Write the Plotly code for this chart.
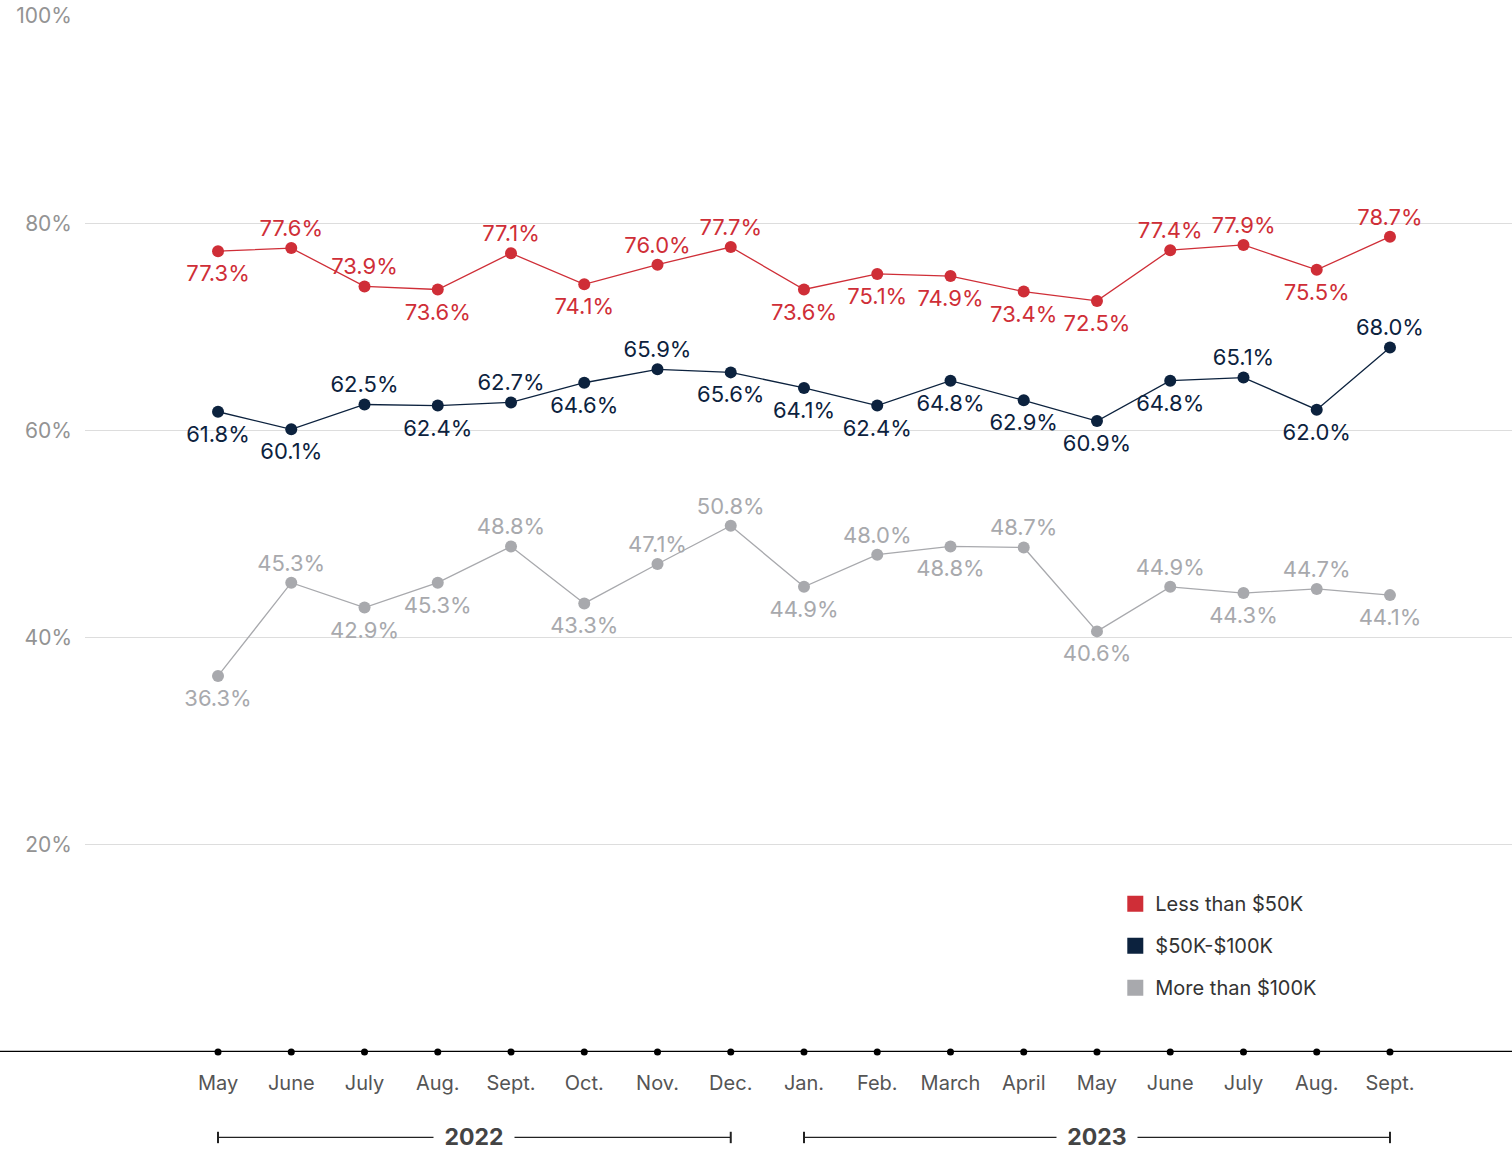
import plotly.graph_objects as go

months = ["May", "June", "July", "Aug.", "Sept.", "Oct.", "Nov.", "Dec.",
          "Jan.", "Feb.", "March", "April", "May", "June", "July", "Aug.", "Sept."]
years = ["2022", "2023"]
year_spans = [(0, 7), (8, 16)]

low = [77.3, 77.6, 73.9, 73.6, 77.1, 74.1, 76.0, 77.7, 73.6, 75.1, 74.9, 73.4, 72.5, 77.4, 77.9, 75.5, 78.7]
mid = [61.8, 60.1, 62.5, 62.4, 62.7, 64.6, 65.9, 65.6, 64.1, 62.4, 64.8, 62.9, 60.9, 64.8, 65.1, 62.0, 68.0]
high = [36.3, 45.3, 42.9, 45.3, 48.8, 43.3, 47.1, 50.8, 44.9, 48.0, 48.8, 48.7, 40.6, 44.9, 44.3, 44.7, 44.1]

# label placement: "t" above, "b" below
low_pos = "bttbtbttbbbbbttbt"
mid_pos = "bbtbtbtbbbbbbbtbt"
high_pos = "btbbtbttbtbtbtbtb"

names = ["Less than $50K", "$50K-$100K", "More than $100K"]
colors = ["#cf2e37", "#0c223e", "#a8a9ad"]

FONT = "Inter"
x = list(range(len(months)))

fig = go.Figure()

for vals, pos, color, name in zip([low, mid, high], [low_pos, mid_pos, high_pos], colors, names):
    fig.add_trace(go.Scatter(
        x=x, y=vals, mode="lines+markers",
        line=dict(color=color, width=1.3),
        marker=dict(color=color, size=12),
        showlegend=False, cliponaxis=False, hoverinfo="skip",
    ))
    # value labels; transparent marker size tunes the label offset
    for flag, tpos, msize in (("t", "top center", 9), ("b", "bottom center", 20)):
        xs = [xi for xi, p in zip(x, pos) if p == flag]
        ys = [v for v, p in zip(vals, pos) if p == flag]
        fig.add_trace(go.Scatter(
            x=xs, y=ys, mode="markers+text",
            marker=dict(color="rgba(0,0,0,0)", size=msize),
            text=[f"{v:.1f}%" for v in ys],
            textposition=tpos,
            textfont=dict(family=FONT, size=22, color=color),
            showlegend=False, cliponaxis=False, hoverinfo="skip",
        ))

# axis dots at each month
fig.add_trace(go.Scatter(
    x=x, y=[0] * len(x), mode="markers",
    marker=dict(color="#000000", size=7),
    showlegend=False, cliponaxis=False, hoverinfo="skip",
))

# legend entries
for i, (color, name) in enumerate(zip(colors, names)):
    fig.add_trace(go.Scatter(
        x=[None], y=[None], mode="markers", name=name,
        marker=dict(color=color, size=17, symbol="square"),
        legendgroup=f"g{i}", showlegend=True,
    ))

shapes = [
    dict(type="line", xref="paper", yref="y", x0=-0.06, x1=1, y0=0, y1=0,
         line=dict(color="#000000", width=2.5), layer="above"),
]
annotations = []
for yr, (a, b) in zip(years, year_spans):
    shapes.append(dict(type="line", xref="x", yref="paper", x0=a, x1=b, y0=-0.0825, y1=-0.0825,
                       line=dict(color="#222222", width=1.3)))
    for e in (a, b):
        shapes.append(dict(type="line", xref="x", yref="paper", x0=e, x1=e, y0=-0.077, y1=-0.088,
                           line=dict(color="#222222", width=2)))
    annotations.append(dict(x=(a + b) / 2, xref="x", y=-0.0825, yref="paper", text=f"<b>{yr}</b>",
                            showarrow=False, font=dict(family=FONT, size=23, color="#444444"),
                            bgcolor="white", borderpad=0, xanchor="center", yanchor="middle",
                            width=80))

fig.update_layout(
    width=1512, height=1151,
    margin=dict(l=85, r=0, t=16, b=99),
    plot_bgcolor="white", paper_bgcolor="white",
    font=dict(family=FONT),
    xaxis=dict(range=[-1.816, 17.666], tickmode="array", tickvals=x, ticktext=months,
               tickfont=dict(family=FONT, size=20, color="#555555"),
               showgrid=False, zeroline=False, showline=False, ticks="",
               ticklabelstandoff=17, fixedrange=True),
    yaxis=dict(range=[0, 100], tickmode="array", tickvals=[20, 40, 60, 80, 100],
               ticktext=["20%", "40%", "60%", "80%", "100%"],
               tickfont=dict(family=FONT, size=21, color="#939393"),
               showgrid=True, gridcolor="#dddddd", gridwidth=1,
               zeroline=False, showline=False, ticks="", ticklabelstandoff=12),
    legend=dict(x=0.722, y=0.162, xanchor="left", yanchor="top",
                font=dict(family=FONT, size=20, color="#333333"),
                traceorder="grouped", tracegroupgap=13, itemwidth=30,
                bgcolor="rgba(0,0,0,0)"),
    shapes=shapes,
    annotations=annotations,
)

fig.write_html("out.html", config={"displayModeBar": False},
               post_script="document.body.style.margin='0';")
